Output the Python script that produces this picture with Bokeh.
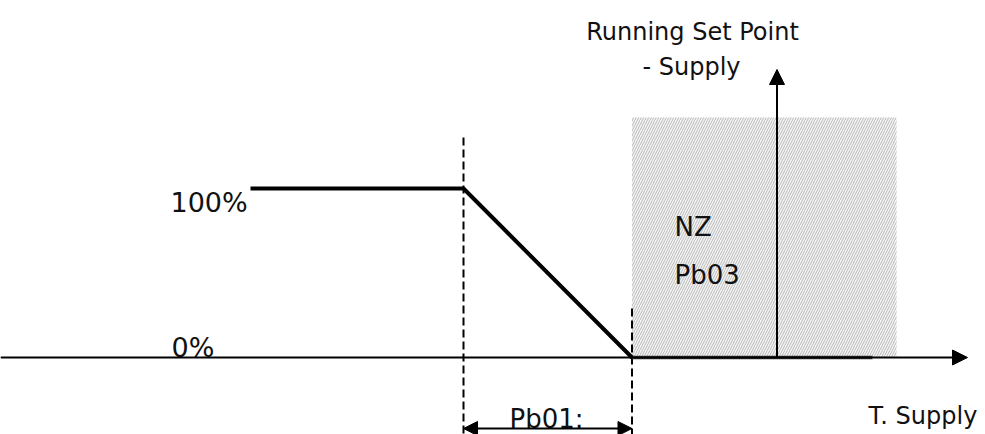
from bokeh.plotting import figure
from bokeh.models import Range1d, Arrow, NormalHead
from bokeh.core.properties import value
from bokeh.embed import file_html
from bokeh.resources import INLINE

# ---- diagram data -------------------------------------------------------
# horizontal axis: "T. Supply" positions (drawing units), vertical: output %
pct_values = [100, 0]
pct_labels = ["100%", "0%"]

curve_t = [250, 463, 631.5]          # output curve breakpoints (T. Supply)
curve_pct = [100, 100, 0]            # output level at breakpoints

pb01_start, pb01_end = 463, 631.5    # proportional band Pb01
nz_start, nz_end = 631.5, 896        # neutral zone Pb03
nz_band_end = 872
setpoint_t = 776.5                   # running set point

axis_t_start, axis_t_end = 0, 967

# ---- geometry helpers (reference pixel row -> % units) -------------------
Y0_PX, PX_PER_PCT = 357.0, 1.69
def pct(py):
    return (Y0_PX - py) / PX_PER_PCT

FONT = value("DejaVu Sans")

p = figure(width=985, height=434, output_backend="svg", toolbar_location=None,
           x_range=Range1d(0, 985), y_range=Range1d(pct(434), pct(0)),
           min_border=0, min_border_left=0, min_border_right=0,
           min_border_top=0, min_border_bottom=0)
p.axis.visible = False
p.grid.visible = False
p.outline_line_color = None
p.background_fill_color = "white"
p.border_fill_color = "white"

# neutral zone hatched area
p.quad(left=[nz_start], right=[nz_end], bottom=[0], top=[pct(117)],
       fill_color="#f5f5f5", line_color=None,
       hatch_pattern="/", hatch_color="#b8b8b8", hatch_scale=5, hatch_weight=1)

# dashed guide lines
p.segment(x0=[pb01_start, pb01_end], y0=[pct(137), pct(308)],
          x1=[pb01_start, pb01_end], y1=[pct(434), pct(434)],
          line_color="black", line_width=2, line_dash="8 4")

# horizontal axis with arrow
p.add_layout(Arrow(end=NormalHead(size=15, fill_color="black", line_color="black", line_width=1),
                   x_start=axis_t_start, y_start=0, x_end=axis_t_end, y_end=0,
                   line_color="black", line_width=2))

# vertical set-point axis with arrow
p.add_layout(Arrow(end=NormalHead(size=15, fill_color="black", line_color="black", line_width=1),
                   x_start=setpoint_t, y_start=0, x_end=setpoint_t, y_end=pct(69),
                   line_color="black", line_width=2))

# dark band along neutral zone bottom
p.line(x=[nz_start, nz_band_end], y=[0, 0], line_color="#333333", line_width=3.5)

# output curve
p.line(x=curve_t, y=curve_pct, line_color="black", line_width=4)

# Pb01 double arrow
p.add_layout(Arrow(start=NormalHead(size=14, fill_color="black", line_color="black", line_width=1),
                   end=NormalHead(size=14, fill_color="black", line_color="black", line_width=1),
                   x_start=pb01_start, y_start=pct(428), x_end=pb01_end, y_end=pct(428),
                   line_color="black", line_width=2))

# ---- texts ---------------------------------------------------------------
big = dict(text_font=FONT, text_font_size=value("26px"), text_color="#111111",
           text_baseline="alphabetic", text_align="left")
small = dict(text_font=FONT, text_font_size=value("24px"), text_color="#111111",
             text_baseline="alphabetic")

p.text(x=[170, 171], y=[pct(202), pct(346.5)], text=pct_labels,
       text_font=FONT, text_font_size=value("27px"), text_color="#111111",
       text_baseline="alphabetic", text_align="left")
p.text(x=[674, 674], y=[pct(226), pct(274)], text=["NZ", "Pb03"], **big)
p.text(x=[509], y=[pct(418)], text=["Pb01:"], **big)
p.text(x=[692, 691], y=[pct(31), pct(66)], text=["Running Set Point", "- Supply"],
       text_align="center", **small)
p.text(x=[868], y=[pct(415)], text=["T. Supply"], text_align="left", **small)

open("out.html", "w").write(file_html(p, INLINE))
